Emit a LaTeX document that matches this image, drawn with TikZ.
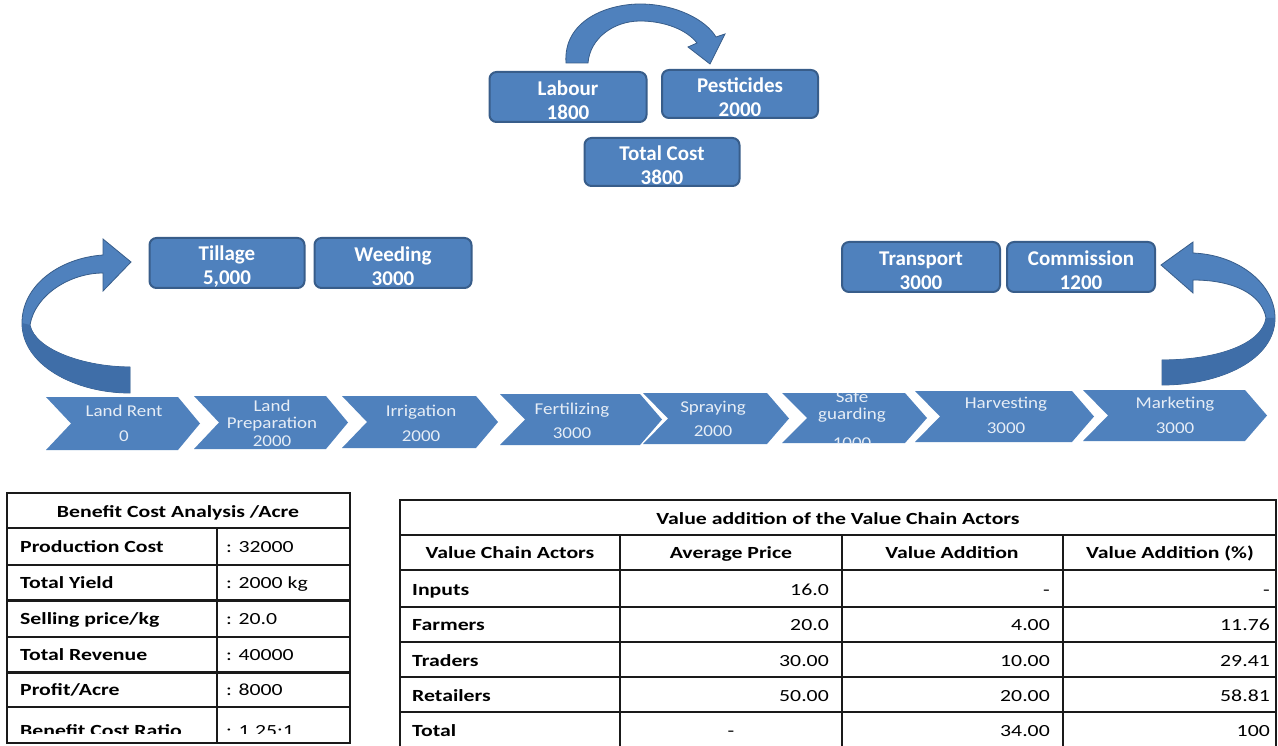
\documentclass[tikz,border=0pt]{standalone}
\usepackage{fontspec}
\setmainfont{Carlito}
\newfontfamily\chevfont[FakeStretch=1.15]{Carlito}
\newfontfamily\tabfont[FakeStretch=1.28]{Carlito}
\definecolor{boxblue}{HTML}{4F81BD}
\definecolor{boxedge}{HTML}{385D8A}
\definecolor{arrowdark}{HTML}{3F6EA8}
\definecolor{chevtext}{HTML}{E6EDF6}
\definecolor{tabline}{HTML}{1A1A1A}
\newcommand{\topstrut}{\rule{0pt}{21pt}}
\tikzset{
 costbox/.style={draw=boxedge, line width=2pt, fill=boxblue, rounded corners=7pt, text=white,
   font=\fontsize{21}{24}\selectfont\bfseries, align=center, inner sep=0pt},
 chevlabel/.style={text=chevtext, font=\chevfont\fontsize{16.5}{20}\selectfont, anchor=base, inner sep=0pt},
 blockarrow/.style={fill=boxblue, draw=boxedge, line width=0.8pt},
 blockshade/.style={fill=arrowdark},
 tabrule/.style={draw=tabline, line width=2pt},
 tabthick/.style={draw=tabline, line width=3pt},
 tabhead/.style={font=\tabfont\fontsize{17}{20}\selectfont\bfseries, anchor=base, inner sep=0pt},
 tablabel/.style={font=\tabfont\fontsize{17}{20}\selectfont\bfseries, anchor=base west, inner sep=0pt},
 tabvalue/.style={font=\tabfont\fontsize{17}{20}\selectfont, anchor=base west, inner sep=0pt},
 tabnum/.style={font=\tabfont\fontsize{17}{20}\selectfont, anchor=base east, inner sep=0pt},
 tabmid/.style={font=\tabfont\fontsize{17}{20}\selectfont, anchor=base, inner sep=0pt},
}
\newcommand{\chevron}[4]{%
  \fill[boxblue] (#1,#3) -- (#2,#3) -- ({#2+22},{(#3+#4)/2}) -- (#2,#4) -- (#1,#4) -- ({#1+25},{(#3+#4)/2}) -- cycle;
  \clip (#1,#3) -- (#2,#3) -- ({#2+22},{(#3+#4)/2}) -- (#2,#4) -- (#1,#4) -- ({#1+25},{(#3+#4)/2}) -- cycle;}
\begin{document}
\begin{tikzpicture}[x=1pt,y=-1pt]
\useasboundingbox (0,0) rectangle (1278,746);
\fill[white] (0,0) rectangle (1278,746);

% ---- top curved arrow (Labour -> Pesticides)
\path[blockarrow] (566,63) .. controls (563,20) and (608,4) .. (640,4)
  .. controls (676,4) and (706,20) .. (716,37) -- (725,34) -- (710,64) -- (688,47) -- (697,43)
  .. controls (687,30) and (665,21) .. (640,21) .. controls (614,21) and (590,38) .. (588,63) -- cycle;

% ---- top cost boxes
\node[costbox, minimum width=157pt, minimum height=50pt] (labour) at (568,97) {\topstrut Labour\\1800};
\node[costbox, minimum width=156pt, minimum height=48pt] (pest) at (740,94) {\topstrut Pesticides\\2000};
\node[costbox, minimum width=155pt, minimum height=48pt] (total) at (662,162) {\topstrut Total Cost\\3800};

% ---- second row boxes
\node[costbox, minimum width=155pt, minimum height=50pt] (tillage) at (227,263) {\topstrut Tillage\\5,000};
\node[costbox, minimum width=157pt, minimum height=50pt] (weeding) at (393,263) {\topstrut Weeding\\3000};
\node[costbox, minimum width=158pt, minimum height=50pt] (transport) at (921,267) {\topstrut Transport\\3000};
\node[costbox, minimum width=148pt, minimum height=50pt] (commission) at (1081,267) {\topstrut Commission\\1200};

% ---- left curved arrow
\path[blockarrow] (131,262) -- (103,239) -- (103,255) .. controls (60,258) and (22,285) .. (22,323)
  .. controls (22,365) and (75,393) .. (130,393) -- (130,367)
  .. controls (85,367) and (35,350) .. (30,325) .. controls (35,295) and (70,273) .. (103,273)
  -- (103,291) -- cycle;
\fill[blockshade] (22,323) .. controls (22,365) and (75,393) .. (130,393) -- (130,367)
  .. controls (85,367) and (35,350) .. (30,325) -- cycle;

% ---- right curved arrow
\path[blockarrow] (1161,265) -- (1193,242) -- (1193,253) .. controls (1240,255) and (1275,285) .. (1275,318)
  .. controls (1275,360) and (1220,385) .. (1162,385) -- (1162,360)
  .. controls (1215,360) and (1262,345) .. (1266,318) .. controls (1262,295) and (1235,280) .. (1193,280)
  -- (1193,293) -- cycle;
\fill[blockshade] (1275,318) .. controls (1275,360) and (1220,385) .. (1162,385) -- (1162,360)
  .. controls (1215,360) and (1262,345) .. (1266,318) -- cycle;

% ---- process chevrons
\begin{scope}\chevron{46}{178}{397}{450}
 \node[chevlabel] (c1a) at (124,416) {Land Rent};
 \node[chevlabel] (c1b) at (124,441) {0};
\end{scope}
\begin{scope}\chevron{194}{326}{396}{449}
 \node[chevlabel] (c2a) at (272,411) {Land};
 \node[chevlabel] (c2b) at (272,428) {Preparation};
 \node[chevlabel] (c2c) at (272,446) {2000};
\end{scope}
\begin{scope}\chevron{342}{476}{396}{448}
 \node[chevlabel] (c3a) at (421,416) {Irrigation};
 \node[chevlabel] (c3b) at (421,441) {2000};
\end{scope}
\begin{scope}\chevron{500}{640}{394}{445}
 \node[chevlabel] (c4a) at (572,414) {Fertilizing};
 \node[chevlabel] (c4b) at (572,438) {3000};
\end{scope}
\begin{scope}\chevron{643}{767}{393}{444}
 \node[chevlabel] (c5a) at (713,412) {Spraying};
 \node[chevlabel] (c5b) at (713,436) {2000};
\end{scope}
\begin{scope}\chevron{782}{905}{393}{443}
 \node[chevlabel] (c6a) at (852,402) {Safe};
 \node[chevlabel] (c6b) at (852,419) {guarding};
 \node[chevlabel] (c6c) at (852,448) {1000};
\end{scope}
\begin{scope}\chevron{915}{1072}{391}{442}
 \node[chevlabel] (c7a) at (1006,408) {Harvesting};
 \node[chevlabel] (c7b) at (1006,433) {3000};
\end{scope}
\begin{scope}\chevron{1083}{1245}{390}{441}
 \node[chevlabel] (c8a) at (1175,408) {Marketing};
 \node[chevlabel] (c8b) at (1175,433) {3000};
\end{scope}

% ---- table 1: benefit cost analysis
\draw[tabrule] (7,493) rectangle (350,743);
\draw[tabrule] (7,528) -- (350,528);
\draw[tabrule] (7,565) -- (350,565);
\draw[tabthick] (7,600) -- (350,600);
\draw[tabrule] (7,637) -- (350,637);
\draw[tabthick] (7,672) -- (350,672);
\draw[tabrule] (7,707) -- (350,707);
\draw[tabrule] (217,528) -- (217,743);
\node[tabhead] (bcah) at (178,517) {Benefit Cost Analysis /Acre};
\node[tablabel] (r1a) at (20,552) {Production Cost};
\node[tabvalue] (r1b) at (226,552) {: 32000};
\node[tablabel] (r2a) at (20,588) {Total Yield};
\node[tabvalue] (r2b) at (226,588) {: 2000 kg};
\node[tablabel] (r3a) at (20,624) {Selling price/kg};
\node[tabvalue] (r3b) at (226,624) {: 20.0};
\node[tablabel] (r4a) at (20,660) {Total Revenue};
\node[tabvalue] (r4b) at (226,660) {: 40000};
\node[tablabel] (r5a) at (20,695) {Profit/Acre};
\node[tabvalue] (r5b) at (226,695) {: 8000};
\begin{scope}
\clip (7,707) rectangle (350,733.5);
\node[tablabel] (r6a) at (20,736) {Benefit Cost Ratio};
\node[tabvalue] (r6b) at (226,736) {: 1.25:1};
\end{scope}

% ---- table 2: value addition
\draw[tabrule] (400,747) -- (400,500) -- (1276,500) -- (1276,747);
\draw[tabrule] (400,535) -- (1276,535);
\draw[tabrule] (400,570) -- (1276,570);
\draw[tabrule] (400,607) -- (1276,607);
\draw[tabrule] (400,642) -- (1276,642);
\draw[tabrule] (400,677) -- (1276,677);
\draw[tabrule] (400,712) -- (1276,712);
\draw[tabrule] (620,535) -- (620,747);
\draw[tabrule] (842,535) -- (842,747);
\draw[tabrule] (1063,535) -- (1063,747);
\node[tabhead] (vat) at (838,524) {Value addition of the Value Chain Actors};
\node[tabhead] (h1) at (510,558) {Value Chain Actors};
\node[tabhead] (h2) at (731,558) {Average Price};
\node[tabhead] (h3) at (952,558) {Value Addition};
\node[tabhead] (h4) at (1170,558) {Value Addition (\%)};
\node[tablabel] (a1) at (412,595) {Inputs};
\node[tabnum] (p1) at (829,595) {16.0};
\node[tabnum] (v1) at (1050,595) {-};
\node[tabnum] (q1) at (1270,595) {-};
\node[tablabel] (a2) at (412,630) {Farmers};
\node[tabnum] (p2) at (829,630) {20.0};
\node[tabnum] (v2) at (1050,630) {4.00};
\node[tabnum] (q2) at (1270,630) {11.76};
\node[tablabel] (a3) at (412,666) {Traders};
\node[tabnum] (p3) at (829,666) {30.00};
\node[tabnum] (v3) at (1050,666) {10.00};
\node[tabnum] (q3) at (1270,666) {29.41};
\node[tablabel] (a4) at (412,701) {Retailers};
\node[tabnum] (p4) at (829,701) {50.00};
\node[tabnum] (v4) at (1050,701) {20.00};
\node[tabnum] (q4) at (1270,701) {58.81};
\node[tablabel] (a5) at (412,736) {Total};
\node[tabmid] (p5) at (731,736) {-};
\node[tabnum] (v5) at (1050,736) {34.00};
\node[tabnum] (q5) at (1270,736) {100};
\end{tikzpicture}
\end{document}
